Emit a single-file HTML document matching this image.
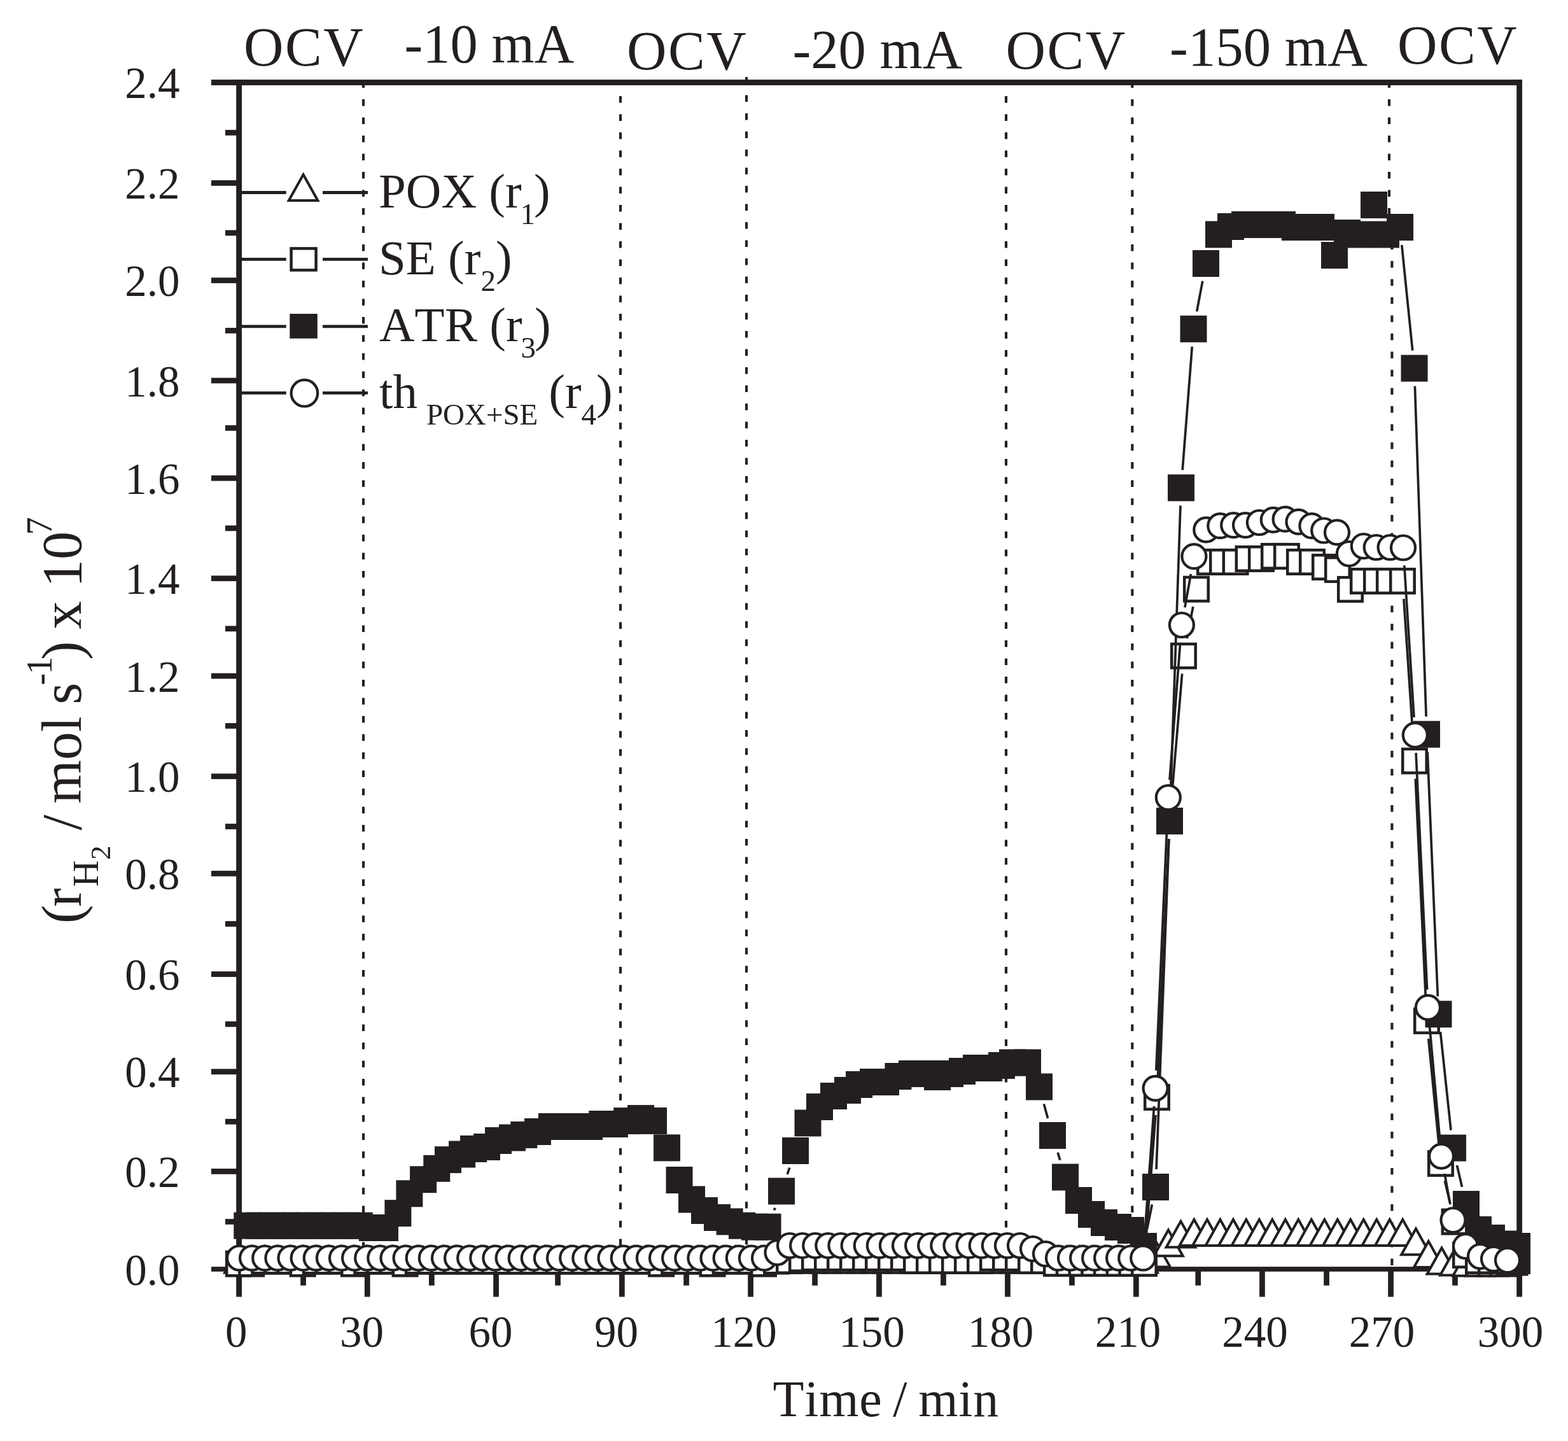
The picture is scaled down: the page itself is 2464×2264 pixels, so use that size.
<!DOCTYPE html>
<html lang="en"><head><meta charset="utf-8"><title>Hydrogen production rate vs time</title>
<style>
html,body{margin:0;padding:0;background:#fff;}
body{width:2464px;height:2264px;overflow:hidden;}
svg{display:block;}
text{font-family:"Liberation Serif","DejaVu Serif",serif;fill:#231f20;font-kerning:none;}
.ax{fill:#231f20;}
.dl{stroke:#231f20;stroke-width:4.1;stroke-dasharray:10.5 18;fill:none;}
.ln{stroke:#231f20;stroke-width:3.7;fill:none;stroke-linejoin:round;}
.lg{stroke:#231f20;stroke-width:4.8;fill:none;}
.fs{fill:#231f20;}
.os{fill:#fff;stroke:#231f20;stroke-width:4.5;}
.oc{fill:#fff;stroke:#231f20;stroke-width:4.2;}
.ot{fill:#fff;stroke:#231f20;stroke-width:4;stroke-linejoin:miter;}
.tk{font-size:69px;}
.tp{font-size:87px;}
.lt{font-size:77px;}
.sb{font-size:47px;}
</style></head><body>
<svg width="2464" height="2264" viewBox="0 0 2464 2264">
<rect x="0" y="0" width="2464" height="2264" fill="#fff"/>
<g>
<line class="dl" x1="571" y1="127.5" x2="571" y2="1990"/>
<line class="dl" x1="975" y1="151" x2="975" y2="1990"/>
<line class="dl" x1="1173" y1="121" x2="1173" y2="1990"/>
<line class="dl" x1="1581" y1="151" x2="1581" y2="1990"/>
<line class="dl" x1="1779.3" y1="127.5" x2="1779.3" y2="1990"/>
<line class="dl" x1="2183" y1="127.5" x2="2183" y2="338"/>
<line class="dl" x1="2187.4" y1="353" x2="2187.4" y2="1990"/>
</g>
<g class="ax">
<rect x="332" y="125.1" width="2060" height="8.9"/>
<rect x="371.2" y="125.1" width="8.8" height="1912.4"/>
<rect x="2383.2" y="125.1" width="8.8" height="1912.4"/>
<rect x="332" y="1990.2" width="2060" height="7.6"/>
<rect x="332" y="283.2" width="40" height="8.7"/>
<rect x="332" y="436.2" width="40" height="8.7"/>
<rect x="332" y="593.6" width="40" height="8.7"/>
<rect x="332" y="746.9" width="40" height="8.7"/>
<rect x="332" y="904.4" width="40" height="8.7"/>
<rect x="332" y="1057.7" width="40" height="8.7"/>
<rect x="332" y="1215.4" width="40" height="8.7"/>
<rect x="332" y="1368.1" width="40" height="8.7"/>
<rect x="332" y="1526.2" width="40" height="8.7"/>
<rect x="332" y="1679.4" width="40" height="8.7"/>
<rect x="332" y="1836.1" width="40" height="8.7"/>
<rect x="354" y="204.1" width="18" height="8.7"/>
<rect x="354" y="361.6" width="18" height="8.7"/>
<rect x="354" y="515.1" width="18" height="8.7"/>
<rect x="354" y="668.1" width="18" height="8.7"/>
<rect x="354" y="825.6" width="18" height="8.7"/>
<rect x="354" y="983.4" width="18" height="8.7"/>
<rect x="354" y="1136.1" width="18" height="8.7"/>
<rect x="354" y="1294.2" width="18" height="8.7"/>
<rect x="354" y="1447.2" width="18" height="8.7"/>
<rect x="354" y="1604.7" width="18" height="8.7"/>
<rect x="354" y="1757.9" width="18" height="8.7"/>
<rect x="354" y="1915.1" width="18" height="8.7"/>
<rect x="572.9" y="1995" width="8.7" height="42.5"/>
<rect x="775.2" y="1995" width="8.7" height="42.5"/>
<rect x="973" y="1995" width="8.7" height="42.5"/>
<rect x="1175.2" y="1995" width="8.7" height="42.5"/>
<rect x="1377.1" y="1995" width="8.7" height="42.5"/>
<rect x="1579.1" y="1995" width="8.7" height="42.5"/>
<rect x="1781" y="1995" width="8.7" height="42.5"/>
<rect x="1979.1" y="1995" width="8.7" height="42.5"/>
<rect x="2181.2" y="1995" width="8.7" height="42.5"/>
<rect x="472.2" y="1995" width="8.7" height="24.7"/>
<rect x="674" y="1995" width="8.7" height="24.7"/>
<rect x="872.2" y="1995" width="8.7" height="24.7"/>
<rect x="1074.2" y="1995" width="8.7" height="24.7"/>
<rect x="1276.2" y="1995" width="8.7" height="24.7"/>
<rect x="1478.1" y="1995" width="8.7" height="24.7"/>
<rect x="1680.1" y="1995" width="8.7" height="24.7"/>
<rect x="1878.4" y="1995" width="8.7" height="24.7"/>
<rect x="2080.2" y="1995" width="8.7" height="24.7"/>
<rect x="2282.1" y="1995" width="8.7" height="24.7"/>
</g>
<g>
<path class="ot" d="M376 1958.8L398.8 1999.6L353.2 1999.6Z"/>
<path class="ot" d="M396 1958.8L418.8 1999.6L373.2 1999.6Z"/>
<path class="ot" d="M416 1958.8L438.8 1999.6L393.2 1999.6Z"/>
<path class="ot" d="M436 1958.8L458.8 1999.6L413.2 1999.6Z"/>
<path class="ot" d="M456 1958.8L478.8 1999.6L433.2 1999.6Z"/>
<path class="ot" d="M476 1958.8L498.8 1999.6L453.2 1999.6Z"/>
<path class="ot" d="M496 1958.8L518.8 1999.6L473.2 1999.6Z"/>
<path class="ot" d="M516 1958.8L538.8 1999.6L493.2 1999.6Z"/>
<path class="ot" d="M536 1958.8L558.8 1999.6L513.2 1999.6Z"/>
<path class="ot" d="M556 1958.8L578.8 1999.6L533.2 1999.6Z"/>
<path class="ot" d="M576 1958.8L598.8 1999.6L553.2 1999.6Z"/>
<path class="ot" d="M596 1958.8L618.8 1999.6L573.2 1999.6Z"/>
<path class="ot" d="M616 1958.8L638.8 1999.6L593.2 1999.6Z"/>
<path class="ot" d="M636 1958.8L658.8 1999.6L613.2 1999.6Z"/>
<path class="ot" d="M656 1958.8L678.8 1999.6L633.2 1999.6Z"/>
<path class="ot" d="M676 1958.8L698.8 1999.6L653.2 1999.6Z"/>
<path class="ot" d="M696 1958.8L718.8 1999.6L673.2 1999.6Z"/>
<path class="ot" d="M716 1958.8L738.8 1999.6L693.2 1999.6Z"/>
<path class="ot" d="M736 1958.8L758.8 1999.6L713.2 1999.6Z"/>
<path class="ot" d="M756 1958.8L778.8 1999.6L733.2 1999.6Z"/>
<path class="ot" d="M776 1958.8L798.8 1999.6L753.2 1999.6Z"/>
<path class="ot" d="M796 1958.8L818.8 1999.6L773.2 1999.6Z"/>
<path class="ot" d="M816 1958.8L838.8 1999.6L793.2 1999.6Z"/>
<path class="ot" d="M836 1958.8L858.8 1999.6L813.2 1999.6Z"/>
<path class="ot" d="M856 1958.8L878.8 1999.6L833.2 1999.6Z"/>
<path class="ot" d="M876 1958.8L898.8 1999.6L853.2 1999.6Z"/>
<path class="ot" d="M896 1958.8L918.8 1999.6L873.2 1999.6Z"/>
<path class="ot" d="M916 1958.8L938.8 1999.6L893.2 1999.6Z"/>
<path class="ot" d="M936 1958.8L958.8 1999.6L913.2 1999.6Z"/>
<path class="ot" d="M956 1958.8L978.8 1999.6L933.2 1999.6Z"/>
<path class="ot" d="M976 1958.8L998.8 1999.6L953.2 1999.6Z"/>
<path class="ot" d="M996 1958.8L1018.8 1999.6L973.2 1999.6Z"/>
<path class="ot" d="M1016 1958.8L1038.8 1999.6L993.2 1999.6Z"/>
<path class="ot" d="M1036 1958.8L1058.8 1999.6L1013.2 1999.6Z"/>
<path class="ot" d="M1056 1958.8L1078.8 1999.6L1033.2 1999.6Z"/>
<path class="ot" d="M1076 1958.8L1098.8 1999.6L1053.2 1999.6Z"/>
<path class="ot" d="M1096 1958.8L1118.8 1999.6L1073.2 1999.6Z"/>
<path class="ot" d="M1116 1958.8L1138.8 1999.6L1093.2 1999.6Z"/>
<path class="ot" d="M1136 1958.8L1158.8 1999.6L1113.2 1999.6Z"/>
<path class="ot" d="M1156 1958.8L1178.8 1999.6L1133.2 1999.6Z"/>
<path class="ot" d="M1176 1958.8L1198.8 1999.6L1153.2 1999.6Z"/>
<path class="ot" d="M1196 1958.8L1218.8 1999.6L1173.2 1999.6Z"/>
<path class="ot" d="M1216 1958.8L1238.8 1999.6L1193.2 1999.6Z"/>
<path class="ot" d="M1236 1958.8L1258.8 1999.6L1213.2 1999.6Z"/>
<path class="ot" d="M1256 1958.8L1278.8 1999.6L1233.2 1999.6Z"/>
<path class="ot" d="M1276 1958.8L1298.8 1999.6L1253.2 1999.6Z"/>
<path class="ot" d="M1296 1958.8L1318.8 1999.6L1273.2 1999.6Z"/>
<path class="ot" d="M1316 1958.8L1338.8 1999.6L1293.2 1999.6Z"/>
<path class="ot" d="M1336 1958.8L1358.8 1999.6L1313.2 1999.6Z"/>
<path class="ot" d="M1356 1958.8L1378.8 1999.6L1333.2 1999.6Z"/>
<path class="ot" d="M1376 1958.8L1398.8 1999.6L1353.2 1999.6Z"/>
<path class="ot" d="M1396 1958.8L1418.8 1999.6L1373.2 1999.6Z"/>
<path class="ot" d="M1416 1958.8L1438.8 1999.6L1393.2 1999.6Z"/>
<path class="ot" d="M1436 1958.8L1458.8 1999.6L1413.2 1999.6Z"/>
<path class="ot" d="M1456 1958.8L1478.8 1999.6L1433.2 1999.6Z"/>
<path class="ot" d="M1476 1958.8L1498.8 1999.6L1453.2 1999.6Z"/>
<path class="ot" d="M1496 1958.8L1518.8 1999.6L1473.2 1999.6Z"/>
<path class="ot" d="M1516 1958.8L1538.8 1999.6L1493.2 1999.6Z"/>
<path class="ot" d="M1536 1958.8L1558.8 1999.6L1513.2 1999.6Z"/>
<path class="ot" d="M1556 1958.8L1578.8 1999.6L1533.2 1999.6Z"/>
<path class="ot" d="M1576 1958.8L1598.8 1999.6L1553.2 1999.6Z"/>
<path class="ot" d="M1596 1958.8L1618.8 1999.6L1573.2 1999.6Z"/>
<path class="ot" d="M1616 1958.8L1638.8 1999.6L1593.2 1999.6Z"/>
<path class="ot" d="M1636 1958.8L1658.8 1999.6L1613.2 1999.6Z"/>
<path class="ot" d="M1656 1958.8L1678.8 1999.6L1633.2 1999.6Z"/>
<path class="ot" d="M1676 1958.8L1698.8 1999.6L1653.2 1999.6Z"/>
<path class="ot" d="M1696 1958.8L1718.8 1999.6L1673.2 1999.6Z"/>
<path class="ot" d="M1716 1958.8L1738.8 1999.6L1693.2 1999.6Z"/>
<path class="ot" d="M1736 1958.8L1758.8 1999.6L1713.2 1999.6Z"/>
<path class="ot" d="M1756 1958.8L1778.8 1999.6L1733.2 1999.6Z"/>
<path class="ot" d="M1776 1958.8L1798.8 1999.6L1753.2 1999.6Z"/>
<path class="ot" d="M1796 1958.8L1818.8 1999.6L1773.2 1999.6Z"/>
<path class="ot" d="M1816 1949.8L1838.8 1990.6L1793.2 1990.6Z"/>
<path class="ot" d="M1836 1932.4L1858.8 1973.2L1813.2 1973.2Z"/>
<path class="ot" d="M1855.5 1918.8L1878.3 1959.6L1832.7 1959.6Z"/>
<path class="ot" d="M1876.4 1916.1L1899.2 1956.9L1853.6 1956.9Z"/>
<path class="ot" d="M1896.9 1916.1L1919.7 1956.9L1874.1 1956.9Z"/>
<path class="ot" d="M1917.4 1916.1L1940.2 1956.9L1894.6 1956.9Z"/>
<path class="ot" d="M1937.9 1916.1L1960.7 1956.9L1915.1 1956.9Z"/>
<path class="ot" d="M1958.3 1916.1L1981.1 1956.9L1935.5 1956.9Z"/>
<path class="ot" d="M1978.8 1916.1L2001.6 1956.9L1956 1956.9Z"/>
<path class="ot" d="M1999.3 1916.1L2022.1 1956.9L1976.5 1956.9Z"/>
<path class="ot" d="M2019.8 1916.1L2042.6 1956.9L1997 1956.9Z"/>
<path class="ot" d="M2040.3 1916.1L2063.1 1956.9L2017.5 1956.9Z"/>
<path class="ot" d="M2060.8 1916.1L2083.6 1956.9L2038 1956.9Z"/>
<path class="ot" d="M2081.3 1916.1L2104.1 1956.9L2058.5 1956.9Z"/>
<path class="ot" d="M2101.8 1916.1L2124.6 1956.9L2079 1956.9Z"/>
<path class="ot" d="M2122.2 1916.1L2145.1 1956.9L2099.4 1956.9Z"/>
<path class="ot" d="M2142.7 1916.1L2165.5 1956.9L2119.9 1956.9Z"/>
<path class="ot" d="M2163.2 1916.1L2186 1956.9L2140.4 1956.9Z"/>
<path class="ot" d="M2183.7 1916.1L2206.5 1956.9L2160.9 1956.9Z"/>
<path class="ot" d="M2204.2 1916.1L2227 1956.9L2181.4 1956.9Z"/>
<path class="ot" d="M2225 1930.4L2247.8 1971.2L2202.2 1971.2Z"/>
<path class="ot" d="M2244.8 1950.2L2267.6 1991L2222 1991Z"/>
<path class="ot" d="M2265.5 1960.6L2288.3 2001.4L2242.7 2001.4Z"/>
<path class="ot" d="M2286 1962.8L2308.8 2003.6L2263.2 2003.6Z"/>
<path class="ot" d="M2306 1963.8L2328.8 2004.6L2283.2 2004.6Z"/>
<path class="ot" d="M2326 1963.8L2348.8 2004.6L2303.2 2004.6Z"/>
<path class="ot" d="M2346 1963.8L2368.8 2004.6L2323.2 2004.6Z"/>
<path class="ot" d="M2364 1963.8L2386.8 2004.6L2341.2 2004.6Z"/>
<path class="ot" d="M2376 1961.8L2398.8 2002.6L2353.2 2002.6Z"/>
</g><g>
<path class="ln" d="M1800.1 1957.1L1815.9 1751.9M1819.3 1696L1836.7 1318M1840.4 1262.1L1857.6 1058.5M1865.2 1003.1L1874.8 953.1M2205.9 940.9L2221.1 1167.6M2224.3 1223.5L2240.7 1576M2244.7 1631.9L2261.3 1800.1M2270.4 1855.3L2279.1 1892.2"/>
<rect class="os" x="356.2" y="1966.8" width="37.5" height="37.5"/>
<rect class="os" x="376.4" y="1966.8" width="37.5" height="37.5"/>
<rect class="os" x="396.5" y="1962.8" width="37.5" height="37.5"/>
<rect class="os" x="416.6" y="1962.8" width="37.5" height="37.5"/>
<rect class="os" x="436.7" y="1962.8" width="37.5" height="37.5"/>
<rect class="os" x="456.9" y="1966.8" width="37.5" height="37.5"/>
<rect class="os" x="477" y="1962.8" width="37.5" height="37.5"/>
<rect class="os" x="497.1" y="1962.8" width="37.5" height="37.5"/>
<rect class="os" x="517.2" y="1962.8" width="37.5" height="37.5"/>
<rect class="os" x="537.3" y="1966.8" width="37.5" height="37.5"/>
<rect class="os" x="557.5" y="1962.8" width="37.5" height="37.5"/>
<rect class="os" x="577.6" y="1962.8" width="37.5" height="37.5"/>
<rect class="os" x="597.7" y="1962.8" width="37.5" height="37.5"/>
<rect class="os" x="617.8" y="1966.8" width="37.5" height="37.5"/>
<rect class="os" x="638" y="1962.8" width="37.5" height="37.5"/>
<rect class="os" x="658.1" y="1962.8" width="37.5" height="37.5"/>
<rect class="os" x="678.2" y="1962.8" width="37.5" height="37.5"/>
<rect class="os" x="698.3" y="1962.8" width="37.5" height="37.5"/>
<rect class="os" x="718.4" y="1962.8" width="37.5" height="37.5"/>
<rect class="os" x="738.6" y="1962.8" width="37.5" height="37.5"/>
<rect class="os" x="758.7" y="1962.8" width="37.5" height="37.5"/>
<rect class="os" x="778.8" y="1962.8" width="37.5" height="37.5"/>
<rect class="os" x="798.9" y="1962.8" width="37.5" height="37.5"/>
<rect class="os" x="819.1" y="1962.8" width="37.5" height="37.5"/>
<rect class="os" x="839.2" y="1962.8" width="37.5" height="37.5"/>
<rect class="os" x="859.3" y="1962.8" width="37.5" height="37.5"/>
<rect class="os" x="879.4" y="1962.8" width="37.5" height="37.5"/>
<rect class="os" x="899.5" y="1962.8" width="37.5" height="37.5"/>
<rect class="os" x="919.7" y="1962.8" width="37.5" height="37.5"/>
<rect class="os" x="939.8" y="1962.8" width="37.5" height="37.5"/>
<rect class="os" x="959.9" y="1962.8" width="37.5" height="37.5"/>
<rect class="os" x="980" y="1962.8" width="37.5" height="37.5"/>
<rect class="os" x="1000.2" y="1962.8" width="37.5" height="37.5"/>
<rect class="os" x="1020.3" y="1966.8" width="37.5" height="37.5"/>
<rect class="os" x="1040.4" y="1962.8" width="37.5" height="37.5"/>
<rect class="os" x="1060.5" y="1962.8" width="37.5" height="37.5"/>
<rect class="os" x="1080.6" y="1962.8" width="37.5" height="37.5"/>
<rect class="os" x="1100.8" y="1966.8" width="37.5" height="37.5"/>
<rect class="os" x="1120.9" y="1962.8" width="37.5" height="37.5"/>
<rect class="os" x="1141" y="1962.8" width="37.5" height="37.5"/>
<rect class="os" x="1161.1" y="1962.8" width="37.5" height="37.5"/>
<rect class="os" x="1181.2" y="1966.8" width="37.5" height="37.5"/>
<rect class="os" x="1201.2" y="1962.8" width="37.5" height="37.5"/>
<rect class="os" x="1221.2" y="1962.2" width="37.5" height="37.5"/>
<rect class="os" x="1241.2" y="1959.2" width="37.5" height="37.5"/>
<rect class="os" x="1261.2" y="1957.8" width="37.5" height="37.5"/>
<rect class="os" x="1281.2" y="1957.8" width="37.5" height="37.5"/>
<rect class="os" x="1301.2" y="1957.8" width="37.5" height="37.5"/>
<rect class="os" x="1321.2" y="1957.8" width="37.5" height="37.5"/>
<rect class="os" x="1341.2" y="1957.8" width="37.5" height="37.5"/>
<rect class="os" x="1361.2" y="1957.8" width="37.5" height="37.5"/>
<rect class="os" x="1381.2" y="1957.8" width="37.5" height="37.5"/>
<rect class="os" x="1401.2" y="1957.8" width="37.5" height="37.5"/>
<rect class="os" x="1421.2" y="1962.2" width="37.5" height="37.5"/>
<rect class="os" x="1441.2" y="1962.2" width="37.5" height="37.5"/>
<rect class="os" x="1461.2" y="1962.2" width="37.5" height="37.5"/>
<rect class="os" x="1481.2" y="1962.2" width="37.5" height="37.5"/>
<rect class="os" x="1501.2" y="1962.2" width="37.5" height="37.5"/>
<rect class="os" x="1521.2" y="1962.2" width="37.5" height="37.5"/>
<rect class="os" x="1541.2" y="1957.8" width="37.5" height="37.5"/>
<rect class="os" x="1561.2" y="1957.8" width="37.5" height="37.5"/>
<rect class="os" x="1581.2" y="1957.8" width="37.5" height="37.5"/>
<rect class="os" x="1601.2" y="1962.2" width="37.5" height="37.5"/>
<rect class="os" x="1621.2" y="1962.2" width="37.5" height="37.5"/>
<rect class="os" x="1641.2" y="1966.2" width="37.5" height="37.5"/>
<rect class="os" x="1661" y="1966.2" width="37.5" height="37.5"/>
<rect class="os" x="1680.7" y="1966.2" width="37.5" height="37.5"/>
<rect class="os" x="1700.4" y="1966.2" width="37.5" height="37.5"/>
<rect class="os" x="1720.1" y="1966.2" width="37.5" height="37.5"/>
<rect class="os" x="1739.8" y="1966.2" width="37.5" height="37.5"/>
<rect class="os" x="1759.5" y="1966.2" width="37.5" height="37.5"/>
<rect class="os" x="1779.2" y="1966.2" width="37.5" height="37.5"/>
<rect class="os" x="1799.2" y="1705.2" width="37.5" height="37.5"/>
<rect class="os" x="1819.2" y="1271.2" width="37.5" height="37.5"/>
<rect class="os" x="1841.2" y="1011.8" width="37.5" height="37.5"/>
<rect class="os" x="1861.2" y="906.9" width="37.5" height="37.5"/>
<rect class="os" x="1882.2" y="864.2" width="37.5" height="37.5"/>
<rect class="os" x="1902.2" y="864.2" width="37.5" height="37.5"/>
<rect class="os" x="1922.8" y="864.2" width="37.5" height="37.5"/>
<rect class="os" x="1942.8" y="859.2" width="37.5" height="37.5"/>
<rect class="os" x="1963.2" y="859.2" width="37.5" height="37.5"/>
<rect class="os" x="1983.2" y="855.2" width="37.5" height="37.5"/>
<rect class="os" x="2003.2" y="855.2" width="37.5" height="37.5"/>
<rect class="os" x="2023.2" y="864.2" width="37.5" height="37.5"/>
<rect class="os" x="2043.2" y="864.2" width="37.5" height="37.5"/>
<rect class="os" x="2063.2" y="872.2" width="37.5" height="37.5"/>
<rect class="os" x="2083.2" y="876.2" width="37.5" height="37.5"/>
<rect class="os" x="2103.2" y="907.2" width="37.5" height="37.5"/>
<rect class="os" x="2123.2" y="894.2" width="37.5" height="37.5"/>
<rect class="os" x="2144.2" y="894.2" width="37.5" height="37.5"/>
<rect class="os" x="2164.2" y="894.2" width="37.5" height="37.5"/>
<rect class="os" x="2185.2" y="894.2" width="37.5" height="37.5"/>
<rect class="os" x="2204.2" y="1176.8" width="37.5" height="37.5"/>
<rect class="os" x="2223.2" y="1585.2" width="37.5" height="37.5"/>
<rect class="os" x="2245.2" y="1809.2" width="37.5" height="37.5"/>
<rect class="os" x="2266.8" y="1900.8" width="37.5" height="37.5"/>
<rect class="os" x="2284.2" y="1953.2" width="37.5" height="37.5"/>
<rect class="os" x="2304.2" y="1962.2" width="37.5" height="37.5"/>
<rect class="os" x="2324.2" y="1962.2" width="37.5" height="37.5"/>
<rect class="os" x="2344.2" y="1962.2" width="37.5" height="37.5"/>
<rect class="os" x="2360.2" y="1958.2" width="37.5" height="37.5"/>
</g><g>
<path class="ln" d="M1216.5 1901.5L1218 1897.7M1237.2 1845L1240.8 1834.5M1640.4 1734.5L1646.6 1757M1662.2 1810.8L1665.8 1822.7M1802.6 1930.6L1810.4 1892.4M1817.1 1837L1836.9 1318M1839 1262L1855 794.4M1858.2 738.5L1873.3 544.7M1880.7 489.3L1889.8 441.5M2202.8 384.9L2219.7 550.7M2223.4 606.6L2241.1 1125.7M2243.2 1181.7L2259.3 1565.4M2263.5 1621.2L2280 1775.8M2289.5 1830.8L2297.5 1864.8"/>
<rect class="fs" x="367.3" y="1904.7" width="42" height="42"/>
<rect class="fs" x="386.9" y="1904.7" width="42" height="42"/>
<rect class="fs" x="406.5" y="1904.7" width="42" height="42"/>
<rect class="fs" x="426.1" y="1904.7" width="42" height="42"/>
<rect class="fs" x="445.7" y="1904.7" width="42" height="42"/>
<rect class="fs" x="465.3" y="1904.7" width="42" height="42"/>
<rect class="fs" x="484.9" y="1904.7" width="42" height="42"/>
<rect class="fs" x="504.5" y="1904.7" width="42" height="42"/>
<rect class="fs" x="524.1" y="1904.7" width="42" height="42"/>
<rect class="fs" x="543.7" y="1904.7" width="42" height="42"/>
<rect class="fs" x="564" y="1908" width="42" height="42"/>
<rect class="fs" x="584" y="1908" width="42" height="42"/>
<rect class="fs" x="604.4" y="1885.1" width="42" height="42"/>
<rect class="fs" x="622.4" y="1854.3" width="42" height="42"/>
<rect class="fs" x="644.1" y="1832.2" width="42" height="42"/>
<rect class="fs" x="665.3" y="1814.8" width="42" height="42"/>
<rect class="fs" x="683" y="1801.1" width="42" height="42"/>
<rect class="fs" x="705.1" y="1792.5" width="42" height="42"/>
<rect class="fs" x="723.1" y="1784" width="42" height="42"/>
<rect class="fs" x="744" y="1781" width="42" height="42"/>
<rect class="fs" x="762" y="1771" width="42" height="42"/>
<rect class="fs" x="784" y="1766.5" width="42" height="42"/>
<rect class="fs" x="802.3" y="1762" width="42" height="42"/>
<rect class="fs" x="824" y="1757" width="42" height="42"/>
<rect class="fs" x="846" y="1749" width="42" height="42"/>
<rect class="fs" x="866" y="1749" width="42" height="42"/>
<rect class="fs" x="886" y="1749" width="42" height="42"/>
<rect class="fs" x="905" y="1749" width="42" height="42"/>
<rect class="fs" x="925.3" y="1745" width="42" height="42"/>
<rect class="fs" x="945" y="1745" width="42" height="42"/>
<rect class="fs" x="964.2" y="1740.1" width="42" height="42"/>
<rect class="fs" x="986" y="1736.1" width="42" height="42"/>
<rect class="fs" x="1006" y="1740" width="42" height="42"/>
<rect class="fs" x="1027" y="1782.4" width="42" height="42"/>
<rect class="fs" x="1046.5" y="1833" width="42" height="42"/>
<rect class="fs" x="1066" y="1863.5" width="42" height="42"/>
<rect class="fs" x="1086" y="1881" width="42" height="42"/>
<rect class="fs" x="1106" y="1892" width="42" height="42"/>
<rect class="fs" x="1125.6" y="1898.4" width="42" height="42"/>
<rect class="fs" x="1145" y="1904.7" width="42" height="42"/>
<rect class="fs" x="1165" y="1906.7" width="42" height="42"/>
<rect class="fs" x="1185.5" y="1906.7" width="42" height="42"/>
<rect class="fs" x="1207" y="1850.5" width="42" height="42"/>
<rect class="fs" x="1229" y="1787" width="42" height="42"/>
<rect class="fs" x="1248.5" y="1743.5" width="42" height="42"/>
<rect class="fs" x="1267" y="1718" width="42" height="42"/>
<rect class="fs" x="1289" y="1701" width="42" height="42"/>
<rect class="fs" x="1311" y="1692" width="42" height="42"/>
<rect class="fs" x="1329" y="1683" width="42" height="42"/>
<rect class="fs" x="1351" y="1679" width="42" height="42"/>
<rect class="fs" x="1371" y="1679" width="42" height="42"/>
<rect class="fs" x="1390.4" y="1670" width="42" height="42"/>
<rect class="fs" x="1412" y="1666" width="42" height="42"/>
<rect class="fs" x="1432" y="1666" width="42" height="42"/>
<rect class="fs" x="1452" y="1671" width="42" height="42"/>
<rect class="fs" x="1472" y="1666" width="42" height="42"/>
<rect class="fs" x="1491" y="1662" width="42" height="42"/>
<rect class="fs" x="1513" y="1657" width="42" height="42"/>
<rect class="fs" x="1533" y="1657" width="42" height="42"/>
<rect class="fs" x="1553" y="1653" width="42" height="42"/>
<rect class="fs" x="1570" y="1648.5" width="42" height="42"/>
<rect class="fs" x="1594" y="1648.5" width="42" height="42"/>
<rect class="fs" x="1612" y="1686.5" width="42" height="42"/>
<rect class="fs" x="1633" y="1763" width="42" height="42"/>
<rect class="fs" x="1653" y="1828.5" width="42" height="42"/>
<rect class="fs" x="1674" y="1865" width="42" height="42"/>
<rect class="fs" x="1694" y="1887" width="42" height="42"/>
<rect class="fs" x="1714" y="1900" width="42" height="42"/>
<rect class="fs" x="1736" y="1907" width="42" height="42"/>
<rect class="fs" x="1756" y="1912" width="42" height="42"/>
<rect class="fs" x="1776" y="1937" width="42" height="42"/>
<rect class="fs" x="1795" y="1844" width="42" height="42"/>
<rect class="fs" x="1817" y="1269" width="42" height="42"/>
<rect class="fs" x="1835" y="745.4" width="42" height="42"/>
<rect class="fs" x="1854.5" y="495.8" width="42" height="42"/>
<rect class="fs" x="1874" y="393" width="42" height="42"/>
<rect class="fs" x="1894" y="347.4" width="42" height="42"/>
<rect class="fs" x="1913" y="335" width="42" height="42"/>
<rect class="fs" x="1935" y="332" width="42" height="42"/>
<rect class="fs" x="1955" y="332" width="42" height="42"/>
<rect class="fs" x="1975" y="332" width="42" height="42"/>
<rect class="fs" x="1994" y="332" width="42" height="42"/>
<rect class="fs" x="2014" y="336" width="42" height="42"/>
<rect class="fs" x="2034" y="336" width="42" height="42"/>
<rect class="fs" x="2055" y="336" width="42" height="42"/>
<rect class="fs" x="2076" y="380" width="42" height="42"/>
<rect class="fs" x="2096" y="345" width="42" height="42"/>
<rect class="fs" x="2116" y="347.5" width="42" height="42"/>
<rect class="fs" x="2138" y="301" width="42" height="42"/>
<rect class="fs" x="2157" y="347.5" width="42" height="42"/>
<rect class="fs" x="2179" y="336" width="42" height="42"/>
<rect class="fs" x="2201.5" y="557.6" width="42" height="42"/>
<rect class="fs" x="2221" y="1132.7" width="42" height="42"/>
<rect class="fs" x="2239.5" y="1572.4" width="42" height="42"/>
<rect class="fs" x="2262" y="1782.6" width="42" height="42"/>
<rect class="fs" x="2283" y="1871" width="42" height="42"/>
<rect class="fs" x="2302" y="1911" width="42" height="42"/>
<rect class="fs" x="2323" y="1924" width="42" height="42"/>
<rect class="fs" x="2343" y="1933.5" width="42" height="42"/>
<rect class="fs" x="2363" y="1937" width="42" height="42"/>
<rect class="fs" x="2363" y="1960" width="42" height="42"/>
</g><g>
<path class="ln" d="M1798.2 1948.6L1813.6 1737.8M1816.8 1681.9L1834.6 1281M1838 1225.1L1854.7 1009.9M1861.9 954.4L1871.4 901.8M2206.8 888.4L2222 1127M2225.1 1182.9L2242.6 1554.9M2246.4 1610.8L2262.5 1788.7M2270.1 1844.1L2278.4 1889.5"/>
<circle class="oc" cx="376" cy="1976.5" r="19"/>
<circle class="oc" cx="396.1" cy="1976.5" r="19"/>
<circle class="oc" cx="416.2" cy="1976.5" r="19"/>
<circle class="oc" cx="436.4" cy="1976.5" r="19"/>
<circle class="oc" cx="456.5" cy="1976.5" r="19"/>
<circle class="oc" cx="476.6" cy="1976.5" r="19"/>
<circle class="oc" cx="496.7" cy="1976.5" r="19"/>
<circle class="oc" cx="516.9" cy="1976.5" r="19"/>
<circle class="oc" cx="537" cy="1976.5" r="19"/>
<circle class="oc" cx="557.1" cy="1976.5" r="19"/>
<circle class="oc" cx="577.2" cy="1976.5" r="19"/>
<circle class="oc" cx="597.3" cy="1976.5" r="19"/>
<circle class="oc" cx="617.5" cy="1976.5" r="19"/>
<circle class="oc" cx="637.6" cy="1976.5" r="19"/>
<circle class="oc" cx="657.7" cy="1976.5" r="19"/>
<circle class="oc" cx="677.8" cy="1976.5" r="19"/>
<circle class="oc" cx="698" cy="1976.5" r="19"/>
<circle class="oc" cx="718.1" cy="1976.5" r="19"/>
<circle class="oc" cx="738.2" cy="1976.5" r="19"/>
<circle class="oc" cx="758.3" cy="1976.5" r="19"/>
<circle class="oc" cx="778.4" cy="1976.5" r="19"/>
<circle class="oc" cx="798.6" cy="1976.5" r="19"/>
<circle class="oc" cx="818.7" cy="1976.5" r="19"/>
<circle class="oc" cx="838.8" cy="1976.5" r="19"/>
<circle class="oc" cx="858.9" cy="1976.5" r="19"/>
<circle class="oc" cx="879" cy="1976.5" r="19"/>
<circle class="oc" cx="899.2" cy="1976.5" r="19"/>
<circle class="oc" cx="919.3" cy="1976.5" r="19"/>
<circle class="oc" cx="939.4" cy="1976.5" r="19"/>
<circle class="oc" cx="959.5" cy="1976.5" r="19"/>
<circle class="oc" cx="979.7" cy="1976.5" r="19"/>
<circle class="oc" cx="999.8" cy="1976.5" r="19"/>
<circle class="oc" cx="1019.9" cy="1976.5" r="19"/>
<circle class="oc" cx="1040" cy="1976.5" r="19"/>
<circle class="oc" cx="1060.1" cy="1976.5" r="19"/>
<circle class="oc" cx="1080.3" cy="1976.5" r="19"/>
<circle class="oc" cx="1100.4" cy="1976.5" r="19"/>
<circle class="oc" cx="1120.5" cy="1976.5" r="19"/>
<circle class="oc" cx="1140.6" cy="1976.5" r="19"/>
<circle class="oc" cx="1160.8" cy="1976.5" r="19"/>
<circle class="oc" cx="1180.9" cy="1976.5" r="19"/>
<circle class="oc" cx="1201" cy="1976.5" r="19"/>
<circle class="oc" cx="1221.5" cy="1968" r="19"/>
<circle class="oc" cx="1241" cy="1957" r="19"/>
<circle class="oc" cx="1261.1" cy="1957" r="19"/>
<circle class="oc" cx="1281.2" cy="1957" r="19"/>
<circle class="oc" cx="1301.3" cy="1957" r="19"/>
<circle class="oc" cx="1321.4" cy="1957" r="19"/>
<circle class="oc" cx="1341.6" cy="1957" r="19"/>
<circle class="oc" cx="1361.7" cy="1957" r="19"/>
<circle class="oc" cx="1381.8" cy="1957" r="19"/>
<circle class="oc" cx="1401.9" cy="1957" r="19"/>
<circle class="oc" cx="1422" cy="1957" r="19"/>
<circle class="oc" cx="1442.1" cy="1957" r="19"/>
<circle class="oc" cx="1462.2" cy="1957" r="19"/>
<circle class="oc" cx="1482.3" cy="1957" r="19"/>
<circle class="oc" cx="1502.4" cy="1957" r="19"/>
<circle class="oc" cx="1522.6" cy="1957" r="19"/>
<circle class="oc" cx="1542.7" cy="1957" r="19"/>
<circle class="oc" cx="1562.8" cy="1957" r="19"/>
<circle class="oc" cx="1582.9" cy="1957" r="19"/>
<circle class="oc" cx="1603" cy="1957" r="19"/>
<circle class="oc" cx="1623" cy="1962" r="19"/>
<circle class="oc" cx="1643" cy="1970" r="19"/>
<circle class="oc" cx="1663" cy="1976.5" r="19"/>
<circle class="oc" cx="1682" cy="1976.5" r="19"/>
<circle class="oc" cx="1701.1" cy="1976.5" r="19"/>
<circle class="oc" cx="1720.1" cy="1976.5" r="19"/>
<circle class="oc" cx="1739.1" cy="1976.5" r="19"/>
<circle class="oc" cx="1758.1" cy="1976.5" r="19"/>
<circle class="oc" cx="1777.2" cy="1976.5" r="19"/>
<circle class="oc" cx="1796.2" cy="1976.5" r="19"/>
<circle class="oc" cx="1815.6" cy="1709.9" r="19"/>
<circle class="oc" cx="1835.8" cy="1253" r="19"/>
<circle class="oc" cx="1856.9" cy="982" r="19"/>
<circle class="oc" cx="1876.4" cy="874.2" r="19"/>
<circle class="oc" cx="1895.3" cy="832.4" r="19"/>
<circle class="oc" cx="1917.3" cy="826.2" r="19"/>
<circle class="oc" cx="1938.2" cy="825.1" r="19"/>
<circle class="oc" cx="1957" cy="825.1" r="19"/>
<circle class="oc" cx="1978.9" cy="821" r="19"/>
<circle class="oc" cx="2000.8" cy="816.8" r="19"/>
<circle class="oc" cx="2019.6" cy="815.7" r="19"/>
<circle class="oc" cx="2040.5" cy="819.9" r="19"/>
<circle class="oc" cx="2061.4" cy="826.2" r="19"/>
<circle class="oc" cx="2080.2" cy="833.5" r="19"/>
<circle class="oc" cx="2101" cy="836.4" r="19"/>
<circle class="oc" cx="2119.9" cy="870" r="19"/>
<circle class="oc" cx="2142.8" cy="858" r="19"/>
<circle class="oc" cx="2162.7" cy="860" r="19"/>
<circle class="oc" cx="2184.6" cy="860" r="19"/>
<circle class="oc" cx="2205" cy="860.5" r="19"/>
<circle class="oc" cx="2223.8" cy="1154.9" r="19"/>
<circle class="oc" cx="2243.9" cy="1582.9" r="19"/>
<circle class="oc" cx="2265" cy="1816.6" r="19"/>
<circle class="oc" cx="2283.5" cy="1917" r="19"/>
<circle class="oc" cx="2303" cy="1958" r="19"/>
<circle class="oc" cx="2326" cy="1974" r="19"/>
<circle class="oc" cx="2347" cy="1978" r="19"/>
<circle class="oc" cx="2369" cy="1980" r="19"/>
</g>
<g>
<path class="lg" d="M380 302.5H449.7M507 302.5H578"/>
<path class="lg" d="M380 407.3H449.7M507 407.3H578"/>
<path class="lg" d="M380 512.9H449.7M507 512.9H578"/>
<path class="lg" d="M380 617.3H449.7M507 617.3H578"/>
<path class="ot" d="M476.6 274.3L499.4 315.1L453.8 315.1Z"/>
<rect class="os" x="457.6" y="390.4" width="39" height="34"/>
<rect class="fs" x="455.3" y="493" width="43.5" height="38.8"/>
<circle class="oc" cx="478.4" cy="617.7" r="20.8"/>
<text class="lt" x="595" y="326">POX (r<tspan class="sb" dx="-2" dy="26">1</tspan><tspan dx="-2" dy="-26">)</tspan></text>
<text class="lt" x="595" y="431">SE (r<tspan class="sb" dy="26">2</tspan><tspan dy="-26">)</tspan></text>
<text class="lt" x="596" y="536">ATR (r<tspan class="sb" dx="-2" dy="26">3</tspan><tspan dx="-2" dy="-26">)</tspan></text>
<text class="lt" x="596" y="641">th<tspan class="sb" dx="14" dy="26.4">POX+SE</tspan><tspan dx="17" dy="-26.4">(r</tspan><tspan class="sb" dy="26">4</tspan><tspan dy="-26">)</tspan></text>
</g>
<g class="tk" text-anchor="end">
<text x="282.5" y="154.1">2.4</text>
<text x="282.5" y="312.1">2.2</text>
<text x="282.5" y="465.1">2.0</text>
<text x="282.5" y="622.5">1.8</text>
<text x="282.5" y="775.8">1.6</text>
<text x="282.5" y="933.3">1.4</text>
<text x="282.5" y="1086.5">1.2</text>
<text x="282.5" y="1244.2">1.0</text>
<text x="282.5" y="1396.9">0.8</text>
<text x="282.5" y="1555">0.6</text>
<text x="282.5" y="1708.2">0.4</text>
<text x="282.5" y="1864.9">0.2</text>
<text x="282.5" y="2018.5">0.0</text>
</g>
<g class="tk" text-anchor="middle">
<text x="371.3" y="2116">0</text>
<text x="568.6" y="2116">30</text>
<text x="771" y="2116">60</text>
<text x="968.5" y="2116">90</text>
<text x="1169" y="2116">120</text>
<text x="1370" y="2116">150</text>
<text x="1572.4" y="2116">180</text>
<text x="1772.5" y="2116">210</text>
<text x="1972" y="2116">240</text>
<text x="2171.5" y="2116">270</text>
<text x="2373.4" y="2116">300</text>
</g>
<g class="tp">
<text x="383" y="103.4" style="font-size:86.5px;letter-spacing:2.5px">OCV</text>
<text x="635.5" y="98" style="font-size:86.5px">-10 mA</text>
<text x="985" y="108.5" style="font-size:86.5px;letter-spacing:2.5px">OCV</text>
<text x="1245.5" y="106.6" style="font-size:86.5px">-20 mA</text>
<text x="1580.5" y="108" style="font-size:86.5px;letter-spacing:2.5px">OCV</text>
<text x="1838" y="103.4" style="font-size:86.8px">-150 mA</text>
<text x="2196" y="100" style="font-size:86.5px;letter-spacing:2.5px">OCV</text>
</g>
<text x="1214.5" y="2225" style="font-size:80px;word-spacing:-4px;letter-spacing:0.8px">Time / min</text>
<text transform="rotate(-90)" x="-1451" y="126.6" style="font-size:88px">(<tspan dx="-3">r</tspan><tspan style="font-size:58px" dx="2" dy="27">H</tspan><tspan style="font-size:45px" dx="0.5" dy="19">2</tspan><tspan dx="2" dy="-46"> /</tspan><tspan dx="-4.5"> mol</tspan><tspan dx="-3"> s</tspan><tspan style="font-size:56px" dx="-4" dy="-46">-</tspan><tspan style="font-size:56px" dx="-2">1</tspan><tspan dx="-5" dy="46">)</tspan><tspan dx="-3"> x</tspan><tspan dx="-0.5"> 10</tspan><tspan style="font-size:56px" dx="-5.5" dy="-46">7</tspan></text>
</svg></body></html>
